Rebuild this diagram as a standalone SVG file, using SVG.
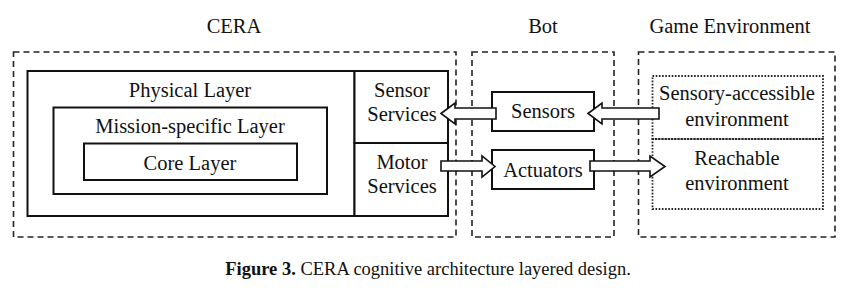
<svg xmlns="http://www.w3.org/2000/svg" width="849" height="297" viewBox="0 0 849 297">
<style>
text{font-family:"Liberation Serif","Times New Roman",serif;font-size:20.5px;fill:#111;text-anchor:middle}
.dash{fill:none;stroke:#222;stroke-width:1.6;stroke-dasharray:6,4}
.solid{fill:#fff;stroke:#111;stroke-width:2}
.dot{fill:none;stroke:#222;stroke-width:1.8;stroke-dasharray:1.6,1.6}
.arrow{fill:#fff;stroke:#111;stroke-width:1.6;stroke-linejoin:miter}
.cap{font-size:18.5px}
</style>
<rect width="849" height="297" fill="#fff"/>
<g id="cera">
  <rect class="dash" x="13.5" y="52" width="442.5" height="185"/>
  <text x="234" y="33">CERA</text>
</g>
<g id="bot">
  <rect class="dash" x="472" y="52" width="142" height="185"/>
  <text x="543" y="33">Bot</text>
</g>
<g id="game-environment">
  <rect class="dash" x="638.5" y="52" width="196.5" height="185"/>
  <text x="730" y="33">Game Environment</text>
</g>
<g id="physical-layer">
  <rect class="solid" x="27.5" y="71" width="327" height="145"/>
  <text x="190" y="97">Physical Layer</text>
</g>
<g id="mission-specific-layer">
  <rect class="solid" x="53.5" y="107.5" width="273.5" height="86.5"/>
  <text x="190" y="133">Mission-specific Layer</text>
</g>
<g id="core-layer">
  <rect class="solid" x="84" y="143.5" width="213" height="36.5"/>
  <text x="190" y="170">Core Layer</text>
</g>
<g id="sensor-services">
  <rect class="solid" x="354.5" y="71" width="93.5" height="72"/>
  <text x="402" y="97">Sensor</text>
  <text x="402" y="121">Services</text>
</g>
<g id="motor-services">
  <rect class="solid" x="354.5" y="143" width="93.5" height="73"/>
  <text x="402" y="169">Motor</text>
  <text x="402" y="193">Services</text>
</g>
<g id="sensors">
  <rect class="solid" x="492" y="92" width="102" height="39"/>
  <text x="543" y="118">Sensors</text>
</g>
<g id="actuators">
  <rect class="solid" x="492" y="150" width="102" height="39"/>
  <text x="543" y="177">Actuators</text>
</g>
<g id="sensory-accessible-environment">
  <rect class="dot" x="652.5" y="76" width="170.5" height="63"/>
  <text x="737" y="100">Sensory-accessible</text>
  <text x="737" y="126">environment</text>
</g>
<g id="reachable-environment">
  <rect class="dot" x="652.5" y="139" width="170.5" height="70"/>
  <text x="737" y="165">Reachable</text>
  <text x="737" y="190">environment</text>
</g>
<g id="connectors">
  <path class="arrow" d="M441,113.5 L455,103 L455,108 L496,108 L496,119 L455,119 L455,124 Z"/>
  <path class="arrow" d="M588,113.5 L602,103 L602,108 L659,108 L659,119 L602,119 L602,124 Z"/>
  <path class="arrow" d="M441,161 L482,161 L482,156 L495,166.5 L482,177 L482,171 L441,171 Z"/>
  <path class="arrow" d="M590,161 L650,161 L650,156 L665,166.5 L650,177 L650,171 L590,171 Z"/>
</g>
<g id="caption">
  <text class="cap" x="428" y="275"><tspan font-weight="bold">Figure 3.</tspan> CERA cognitive architecture layered design.</text>
</g>
</svg>
